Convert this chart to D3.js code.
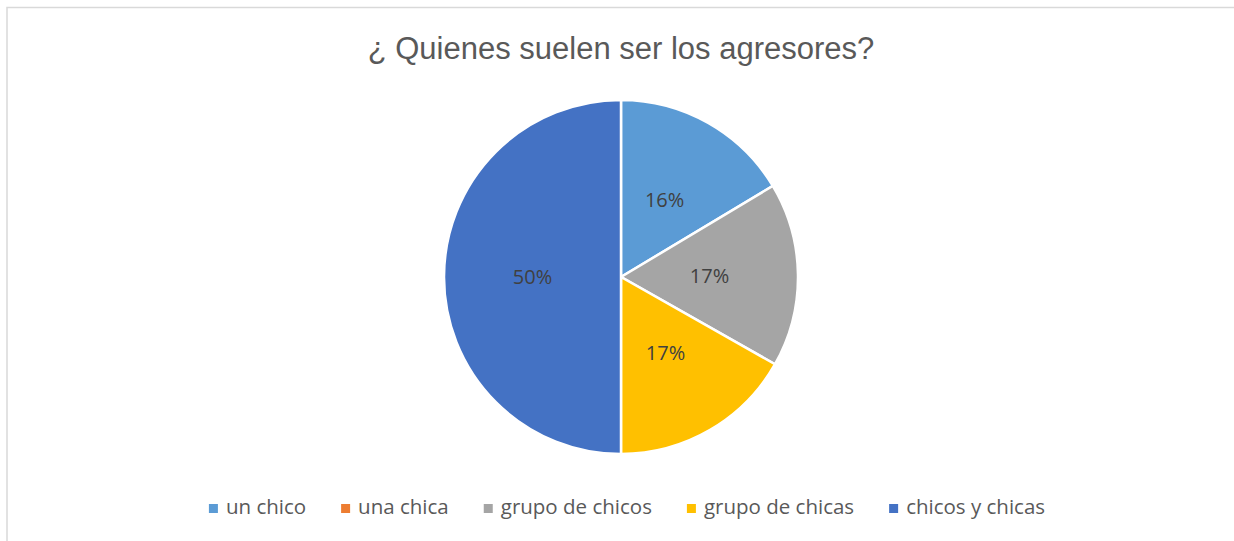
<!DOCTYPE html>
<html>
<head>
<meta charset="utf-8">
<script src="https://cdn.jsdelivr.net/npm/d3@7"></script>
<style>
  body { margin: 0; background: #fff; }
  .title { font-family: 'Liberation Sans', Arial, sans-serif; font-size: 31px; fill: #595959; }
  .slice-label { font-family: 'Open Sans', 'Noto Sans', sans-serif; font-size: 20px; fill: #404040; }
  .legend text { font-family: 'Open Sans', 'Noto Sans', sans-serif; font-size: 20.5px; fill: #595959; }
</style>
</head>
<body>
<div id="chart"></div>
<script>
// Chart data
const categories = ['un chico', 'una chica', 'grupo de chicos', 'grupo de chicas', 'chicos y chicas']
const values = [16.4, 0, 16.8, 16.8, 50]
const labels = ['16%', '0%', '17%', '17%', '50%']
const colors = ['#5B9BD5', '#ED7D31', '#A5A5A5', '#FFC000', '#4472C4']

const width = 1234,
      height = 541

let svg = d3.select('#chart').append('svg')
    .attr('width', width)
    .attr('height', height)

// Outer frame
svg.append('rect')
  .attr('x', 7)
  .attr('y', 7.5)
  .attr('width', 1240)
  .attr('height', 560)
  .attr('fill', 'none')
  .attr('stroke', '#d9d9d9')
  .attr('stroke-width', 1.5)

svg.append('text')
  .attr('class', 'title')
  .attr('x', 621)
  .attr('y', 59)
  .attr('text-anchor', 'middle')
  .text('¿ Quienes suelen ser los agresores?')

// Pie
let cx = 621,
    cy = 277,
    radius = 177

let data = categories.map((c, i) => ({ name: c, value: values[i], label: labels[i], color: colors[i] }))

let pie = d3.pie()
    .sort(null)
    .value(d => d.value)

let arc = d3.arc()
    .innerRadius(0)
    .outerRadius(radius)

let labelArc = d3.arc()
    .innerRadius(radius / 2)
    .outerRadius(radius / 2)

let g = svg.append('g')
    .attr('transform', 'translate(' + cx + ',' + cy + ')')

let arcs = pie(data)

g.selectAll('.slice')
  .data(arcs.filter(d => d.data.value > 0))
  .enter().append('path')
  .attr('class', 'slice')
  .attr('d', arc)
  .attr('fill', d => d.data.color)
  .attr('stroke', '#fff')
  .attr('stroke-width', 2.5)

g.selectAll('.slice-label')
  .data(arcs.filter(d => d.data.value > 0))
  .enter().append('text')
  .attr('class', 'slice-label')
  .attr('transform', d => 'translate(' + labelArc.centroid(d) + ')')
  .attr('text-anchor', 'middle')
  .attr('dy', '0.35em')
  .text(d => d.data.label)

// Legend
let legend = svg.append('g').attr('class', 'legend')
let items = legend.selectAll('.item')
    .data(data)
    .enter().append('g')
    .attr('class', 'item')

items.append('rect')
  .attr('width', 9)
  .attr('height', 9)
  .attr('y', -10)
  .attr('fill', d => d.color)

items.append('text')
  .attr('x', 17)
  .attr('y', 0)
  .text(d => d.name)

let marker = 17,
    gap = 35,
    offsets = [],
    total = 0
items.each(function(d, i) {
  let w = marker + this.querySelector('text').getComputedTextLength()
  offsets.push(total)
  total += w + (i < data.length - 1 ? gap : 0)
})
let startX = 627 - total / 2
items.attr('transform', (d, i) => 'translate(' + (startX + offsets[i]) + ',' + 514 + ')')
</script>
</body>
</html>
